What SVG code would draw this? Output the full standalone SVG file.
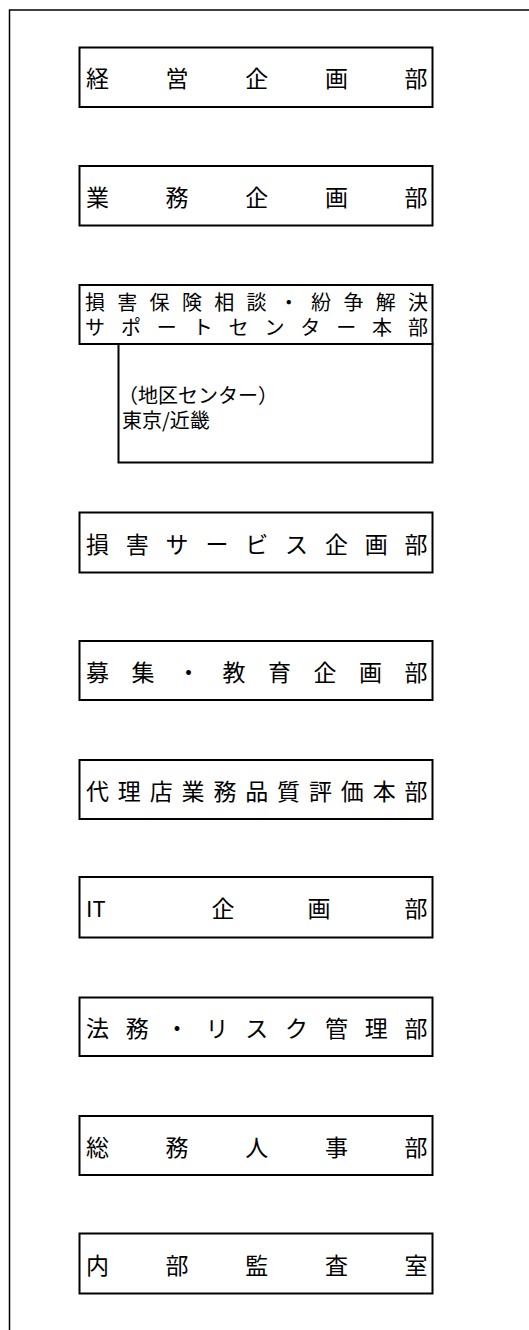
<svg xmlns="http://www.w3.org/2000/svg" width="529" height="1330" viewBox="0 0 529 1330">
<style>
.box{fill:#fff;stroke:#000;stroke-width:2}
.frame{fill:none;stroke:#000;stroke-width:1.5}
.t{font-family:"Noto Sans CJK JP","Noto Sans",sans-serif;font-size:23px;fill:#000;text-anchor:middle;dominant-baseline:central}
.t2{font-family:"Noto Sans CJK JP","Noto Sans",sans-serif;font-size:20px;fill:#000;text-anchor:middle;dominant-baseline:central}
.t3{font-family:"Noto Sans CJK JP","Noto Sans",sans-serif;font-size:20px;fill:#000;dominant-baseline:central}
</style>
<rect width="529" height="1330" fill="#fff"/>
<g id="frame"><path class="frame" d="M9.5,1330 V10 H529"/></g>
<g id="connectors"></g>
<g id="n1"><rect class="box" x="79.5" y="47.5" width="353" height="59.5"/>
<text class="t" y="77" x="97.5 177.1 256.75 336.4 416">経営企画部</text></g>
<g id="n2"><rect class="box" x="79.5" y="166" width="353" height="59.5"/>
<text class="t" y="196" x="97.5 177.1 256.75 336.4 416">業務企画部</text></g>
<g id="n3"><rect class="box" x="79.5" y="285" width="353" height="59"/>
<text class="t2"><tspan y="301" x="95 127.3 159.6 191.9 224.2 256.5 288.8 321.1 353.4 385.7 418">損害保険相談・紛争解決</tspan><tspan y="326" x="95 130.9 166.8 202.7 238.6 274.4 310.3 346.2 382.1 418">サポートセンター本部</tspan></text></g>
<g id="n3sub"><rect class="box" x="118.5" y="344" width="314" height="118.5"/>
<text class="t3"><tspan x="118" y="394">（地区センター）</tspan><tspan x="122" y="419">東京/近畿</tspan></text></g>
<g id="n4"><rect class="box" x="79.5" y="512.5" width="353" height="60"/>
<text class="t" y="542.5" x="97.5 137.3 177.1 216.9 256.75 296.6 336.4 376.2 416">損害サービス企画部</text></g>
<g id="n5"><rect class="box" x="79.5" y="641" width="353" height="59"/>
<text class="t" y="670.5" x="97.5 143 188.5 234 279.5 325 370.5 416">募集・教育企画部</text></g>
<g id="n6"><rect class="box" x="79.5" y="760" width="353" height="59"/>
<text class="t" y="789.5" x="97.5 129.35 161.2 193.05 224.9 256.75 288.6 320.45 352.3 384.15 416">代理店業務品質評価本部</text></g>
<g id="n7"><rect class="box" x="79.5" y="877" width="353" height="60.5"/>
<text class="t3" style="font-size:22px" x="86" y="907">IT</text>
<text class="t" y="907" x="223 319 416">企画部</text></g>
<g id="n8"><rect class="box" x="79.5" y="997.5" width="353" height="58.5"/>
<text class="t" y="1027" x="97.5 137.3 177.1 216.9 256.75 296.6 336.4 376.2 416">法務・リスク管理部</text></g>
<g id="n9"><rect class="box" x="79.5" y="1116" width="353" height="59"/>
<text class="t" y="1145.5" x="97.5 177.1 256.75 336.4 416">総務人事部</text></g>
<g id="n10"><rect class="box" x="79.5" y="1233.5" width="353" height="60"/>
<text class="t" y="1263.5" x="97.5 177.1 256.75 336.4 416">内部監査室</text></g>
</svg>
